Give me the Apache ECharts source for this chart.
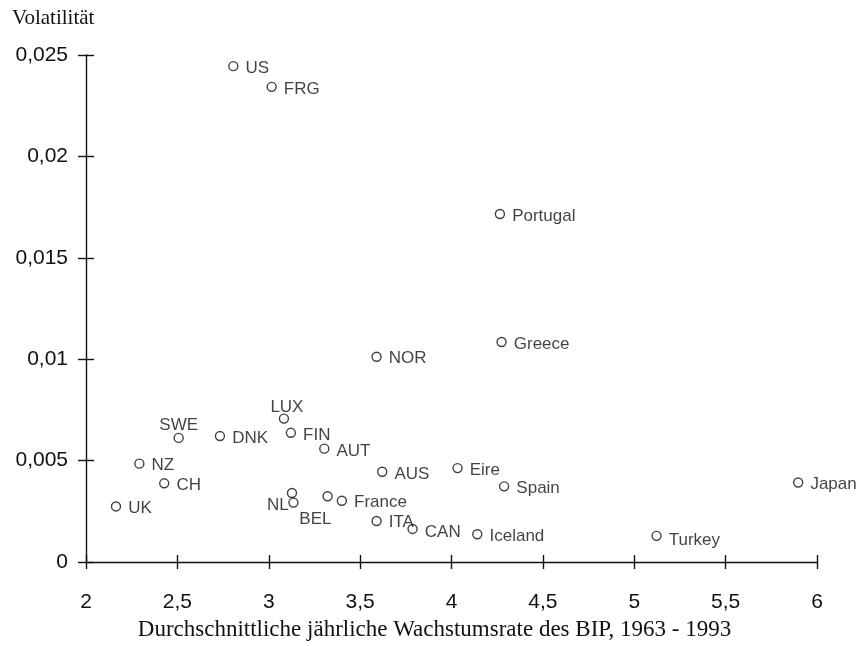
<!DOCTYPE html>
<html>
<head>
<meta charset="utf-8">
<script src="https://cdn.jsdelivr.net/npm/echarts@6/dist/echarts.min.js"></script>
<style>html,body{margin:0;padding:0;background:#fff;}#c{width:861px;height:646px;}</style>
</head>
<body>
<div id="c"></div>
<script>
// ---- data ----
const countries = ["US","FRG","Portugal","Greece","NOR","LUX","SWE","DNK","FIN","AUT","NZ","CH","UK","AUS","Eire","Spain","Japan","NL","BEL","","France","ITA","CAN","Iceland","Turkey"];
const growth = [2.806,3.016,4.265,4.274,3.590,3.083,2.507,2.733,3.121,3.304,2.292,2.428,2.164,3.621,4.033,4.288,5.897,3.127,3.135,3.322,3.400,3.590,3.787,4.141,5.122];
const volatility = [0.02445,0.02343,0.01716,0.01085,0.01012,0.00707,0.00612,0.00621,0.00637,0.00559,0.00485,0.00388,0.00274,0.00445,0.00463,0.00373,0.00392,0.00340,0.00293,0.00324,0.00302,0.00202,0.00163,0.00137,0.00129];
const xTicks = [2,2.5,3,3.5,4,4.5,5,5.5,6];
const xTickLabels = ["2","2,5","3","3,5","4","4,5","5","5,5","6"];
const yTicks = [0,0.005,0.01,0.015,0.02,0.025];
const yTickLabels = ["0","0,005","0,01","0,015","0,02","0,025"];
const yTitle = "Volatilität";
const xTitle = "Durchschnittliche jährliche Wachstumsrate des BIP, 1963 - 1993";

// ---- label placement (style) ----
const labelStyle = {
  LUX: {position: 'top', distance: 0, offset: [3, 2]},
  SWE: {position: 'top', distance: 1},
  NL: {position: 'left', distance: 0, offset: [2, 12]},
  BEL: {position: 'bottom', distance: 3, offset: [22, 0]},
  AUT: {offset: [0, 3]},
  AUS: {offset: [0, 3]},
  CAN: {offset: [0, 3]},
  Turkey: {offset: [0, 4]},
  ITA: {offset: [0, 1]}
};

function lookup(ticks, labels, v) {
  for (let i = 0; i < ticks.length; i++) if (Math.abs(ticks[i] - v) < 1e-9) return labels[i];
  return '';
}

const points = countries.map((n, i) => {
  const s = labelStyle[n] || {};
  return {
    value: [growth[i], volatility[i]],
    name: n,
    label: Object.assign({show: n !== '', position: 'right', distance: 7, offset: [0, 2]}, s)
  };
});

const sansFont = 'Liberation Sans, Arial, sans-serif';
const serifFont = 'Liberation Serif, Times New Roman, serif';

const chart = echarts.init(document.getElementById('c'), null, {renderer: 'canvas'});
const xBase = {type: 'value', min: 2, max: 6, interval: 0.5, splitLine: {show: false}};
const yBase = {type: 'value', min: 0, max: 0.025, interval: 0.005, splitLine: {show: false}};
chart.setOption({
  animation: false,
  backgroundColor: '#fff',
  title: {
    text: yTitle, left: 7, top: 3,
    textStyle: {fontFamily: serifFont, fontSize: 21, fontWeight: 'normal', color: '#111'}
  },
  grid: {left: 86, width: 731, top: 55, height: 513, containLabel: false},
  xAxis: [
    Object.assign({}, xBase, {
      name: xTitle, nameLocation: 'middle', nameGap: 56,
      nameTextStyle: {fontFamily: serifFont, fontSize: 23, color: '#111', padding: [0, 34, 0, 0]},
      axisLine: {show: true, onZero: false, lineStyle: {color: '#111', width: 1.4}},
      axisTick: {show: true, inside: false, length: 7, lineStyle: {color: '#111', width: 1.4}},
      axisLabel: {margin: 30, fontFamily: sansFont, fontSize: 21, color: '#111',
        formatter: v => lookup(xTicks, xTickLabels, v)}
    }),
    Object.assign({}, xBase, {
      position: 'bottom',
      axisLine: {show: false},
      axisTick: {show: true, inside: true, length: 7, lineStyle: {color: '#111', width: 1.4}},
      axisLabel: {show: false}
    })
  ],
  yAxis: [
    Object.assign({}, yBase, {
      axisLine: {show: true, onZero: false, lineStyle: {color: '#111', width: 1.4}},
      axisTick: {show: true, inside: false, length: 8, lineStyle: {color: '#111', width: 1.4}},
      axisLabel: {margin: 18, fontFamily: sansFont, fontSize: 21, color: '#111',
        formatter: v => lookup(yTicks, yTickLabels, v)}
    }),
    Object.assign({}, yBase, {
      position: 'left',
      axisLine: {show: false},
      axisTick: {show: true, inside: true, length: 8, lineStyle: {color: '#111', width: 1.4}},
      axisLabel: {show: false}
    })
  ],
  series: [{
    type: 'scatter',
    xAxisIndex: 0, yAxisIndex: 0,
    symbol: 'circle', symbolSize: 9,
    itemStyle: {color: '#fff', borderColor: '#111', borderWidth: 1.4},
    label: {fontFamily: sansFont, fontSize: 17, color: '#111', formatter: p => p.name},
    data: points
  }]
});
</script>
</body>
</html>
